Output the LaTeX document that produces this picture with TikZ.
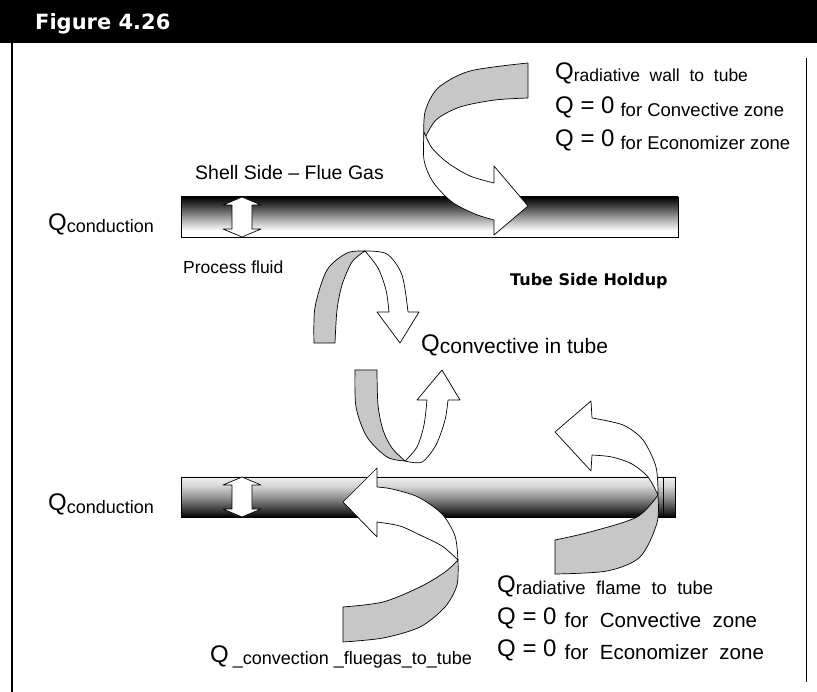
\documentclass[tikz,border=0pt]{standalone}
\usepackage{fontspec}
\setmainfont{Liberation Sans}
\newfontfamily\headfont{DejaVu Sans}

% tube shadings: first colour is the bottom of the tube
\pgfdeclareverticalshading{tubedark}{100bp}{color(0bp)=(white); color(25bp)=(white); color(33bp)=(white); color(50bp)=(black!40); color(64bp)=(black!75); color(75bp)=(black); color(100bp)=(black)}
\pgfdeclareverticalshading{tubelight}{100bp}{color(0bp)=(black); color(25bp)=(black); color(34bp)=(black!78); color(50bp)=(black!42); color(64bp)=(black!16); color(75bp)=(black!6); color(100bp)=(black!6)}

\newcommand\Qbig{\fontsize{24}{28}\selectfont}
% Q with a lowered subscript text of a given size
\newcommand\Qlabel[2]{{\Qbig Q}{\fontsize{#1}{#1}\selectfont\raisebox{-2pt}{#2}}}
\newcommand\Qzero[3]{{\Qbig Q = 0}\hspace{#2}{\fontsize{#1}{#1}\selectfont\raisebox{-3pt}{#3}}}

\tikzset{
  backface/.style={fill=black!22, draw=black, line width=0.7pt, line join=round},
  frontface/.style={fill=white, draw=black, line width=0.7pt, line join=round},
  tubebody/.style={draw=black, line width=0.8pt},
  lbl/.style={inner sep=0pt, anchor=base west},
}

\begin{document}
\begin{tikzpicture}[x=1pt, y=-1pt]
\useasboundingbox (0,0) rectangle (817,692);

% title bar and frame
\fill[black] (0,0) rectangle (817,43);
\node[lbl, text=white] (title) at (35,30) {\headfont\bfseries\fontsize{21}{24}\selectfont Figure 4.26};
\draw[line width=2.4pt] (12,43) -- (12,692);
\draw[line width=1pt] (806,58) -- (806,682);

% upper tube (dark on top)
\shade[shading=tubedark] (181,197) rectangle (678,237);
\draw[tubebody] (181,197) rectangle (678,237);
% lower tube (dark underneath) with its end cap
\shade[shading=tubelight] (181,477) rectangle (663,517);
\draw[tubebody] (181,477) rectangle (663,517);
\shade[shading=tubelight] (663,477) rectangle (675,517);
\draw[tubebody] (663,477) rectangle (675,517);

% conduction arrows through the tube walls
\foreach \yt/\yb in {197/237, 477/517}{
  \filldraw[frontface]
    (242,\yt) -- (261,\yt+8) -- (252,\yt+8) -- (252,\yb-8) -- (261,\yb-8)
    -- (242,\yb) -- (223,\yb-8) -- (232,\yb-8) -- (232,\yt+8) -- (223,\yt+8) -- cycle;
}

% radiative wall to tube
\filldraw[backface] (528,63) -- plot[smooth] coordinates {(528,63) (470,71) (438,88) (425,112) (424,140)}
  -- plot[smooth] coordinates {(424,140) (436,120) (460,107) (495,100) (528,98)} -- cycle;
\filldraw[frontface] plot[smooth] coordinates {(424,132) (424,160) (433,182) (452,202) (475,214) (494,220)}
  -- (494,235) -- (528,206) -- (494,166) -- (494,183)
  -- plot[smooth] coordinates {(494,183) (470,176) (448,163) (432,148) (424,132)} -- cycle;

% convective in tube, upper loop
\filldraw[backface] (314,343) -- plot[smooth] coordinates {(314,343) (315,307) (327,270) (347,253) (365,251)}
  -- plot[smooth] coordinates {(365,251) (352,262) (342,285) (337,310) (335,343)} -- cycle;
\filldraw[frontface] plot[smooth] coordinates {(365,251) (387,254) (402,275) (408,312)}
  -- (419,312) -- (400,343) -- (377,312) -- (389,312)
  -- plot[smooth] coordinates {(389,312) (386,290) (378,268) (365,251)} -- cycle;

% convective in tube, lower loop
\filldraw[backface] (355,370) -- plot[smooth] coordinates {(355,370) (356,407) (367,437) (387,457) (405,461)}
  -- plot[smooth] coordinates {(405,461) (392,448) (383,430) (378,405) (377,370)} -- cycle;
\filldraw[frontface] plot[smooth] coordinates {(405,461) (422,462) (436,445) (445,420) (448,400)}
  -- (460,400) -- (442,370) -- (417,400) -- (427,400)
  -- plot[smooth] coordinates {(427,400) (424,425) (417,447) (405,461)} -- cycle;

% convection flue gas to tube
\filldraw[backface] (343,607) -- (343,642)
  -- plot[smooth] coordinates {(343,642) (383,638) (420,627) (445,607) (457,585) (458,560)}
  -- plot[smooth] coordinates {(458,560) (445,572) (420,587) (383,602) (343,607)} -- cycle;
\filldraw[frontface] plot[smooth] coordinates {(458,560) (455,536) (442,514) (418,497) (392,489) (377,487)}
  -- (377,468) -- (343,502) -- (377,537) -- (377,522)
  -- plot[smooth] coordinates {(377,522) (400,526) (420,535) (442,546) (458,560)} -- cycle;

% radiative flame to tube
\filldraw[backface] (555,540) -- (555,574)
  -- plot[smooth] coordinates {(555,574) (607,571) (640,557) (657,523) (658,495)}
  -- plot[smooth] coordinates {(658,495) (637,517) (590,532) (555,540)} -- cycle;
\filldraw[frontface] plot[smooth] coordinates {(658,495) (656,467) (643,440) (623,425) (592,418)}
  -- (591,401) -- (555,432) -- (591,471) -- (592,455)
  -- plot[smooth] coordinates {(592,455) (612,457) (632,464) (648,477) (658,495)} -- cycle;

% labels
\node[lbl] (qwall)  at (555,80)  {\Qlabel{17.5}{radiative\ \ wall\ \ to\ \ tube}};
\node[lbl] (qwall2) at (555,114) {\Qzero{18.5}{6pt}{for Convective zone}};
\node[lbl] (qwall3) at (555,147) {\Qzero{18.5}{6pt}{for Economizer zone}};

\node[lbl, font=\fontsize{19.5}{22}\selectfont] (shell) at (195,180) {Shell Side – Flue Gas};
\node[lbl] (cond1) at (48,231) {\Qlabel{18}{conduction}};
\node[lbl, font=\fontsize{17.5}{21}\selectfont] (proc) at (183,274) {Process fluid};
\node[lbl] (hold) at (510,286) {\headfont\bfseries\fontsize{16}{19}\selectfont Tube Side Holdup};
\node[lbl] (qconv) at (421,352) {\Qlabel{21}{convective in tube}};
\node[lbl] (cond2) at (48,511) {\Qlabel{18}{conduction}};

\node[lbl] (qflame)  at (497,592) {\Qlabel{18.5}{radiative\ \ flame\ \ to\ \ tube}};
\node[lbl] (qflame2) at (497,624) {\Qzero{20.5}{8pt}{for\ \ Convective\ \ zone}};
\node[lbl] (qflame3) at (497,656) {\Qzero{20.5}{8pt}{for\ \ Economizer\ \ zone}};

\node[lbl] (qflue) at (210,662) {\Qlabel{18}{\hspace{4pt}\_convection \_fluegas\_to\_tube}};
\end{tikzpicture}
\end{document}
